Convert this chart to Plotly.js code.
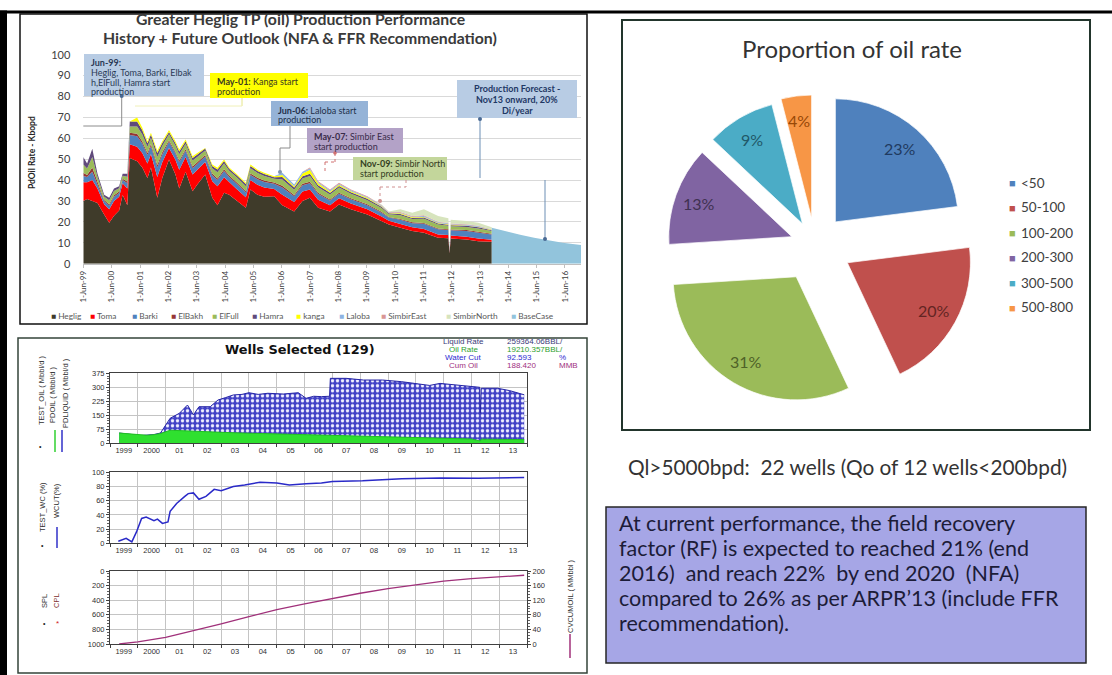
<!DOCTYPE html>
<html><head><meta charset="utf-8">
<script src="https://cdn.plot.ly/plotly-3.0.1.min.js"></script>
<style>html,body{margin:0;padding:0;background:#fff}#chart{width:1112px;height:675px}</style>
</head><body><div id="chart"></div>
<script>
// ---------------- DATA ----------------
// Top-left: Greater Heglig production history (Kbopd), stacked by field
const topDates = ['1999-06-01','1999-07-20','1999-09-25','1999-12-01','2000-02-25','2000-04-30','2000-07-01','2000-09-05','2000-10-20','2000-12-20',
 '2001-01-20','2001-04-25','2001-07-01','2001-09-05','2001-10-20','2002-01-10','2002-03-15','2002-06-10','2002-09-01','2002-10-20',
 '2003-01-10','2003-04-10','2003-06-10','2003-09-20','2003-12-20','2004-02-25','2004-05-20','2004-07-25','2004-11-05','2005-02-25',
 '2005-04-25','2005-07-25','2005-10-20','2006-02-25','2006-06-10','2006-11-10','2007-02-25','2007-06-01','2007-09-15','2008-02-15',
 '2008-06-10','2008-11-10','2009-06-10','2009-12-10','2010-03-15','2010-08-10','2011-01-10','2011-06-10','2011-12-10','2012-04-20',
 '2012-05-05','2012-05-20','2012-12-10','2013-05-10','2013-10-31'];
const heglig = [30,31,30,29,23.5,19.6,23,25.5,33,28, 50.6,49,46,41,46,31.5,41,49.8,42.7,36, 44,34.7,37.9,42.7,31.5,28,33.9,33,30,26.8,
 35.5,33,32,32.3,28,25,30,31.5,26.8,25, 28.3,26,23.5,20.4,18.8,17.2,15.6,14.8,12.4,12.2, 5,12,11.6,10.8,10.5];
const toma = [9,8,10,7,5,6.5,7,6.5,5.5,8, 6.5,7,7,7,6.5,10,7.5,5.5,7,9, 7,8,7,6,8,9,7.5,6,5.5,5,
 4.5,4.8,4.5,3.5,5,4.5,4.5,4,3.8,3, 3,2.8,2.5,2.2,1.8,1.8,1.8,1.8,1.6,1.5, 0.4,1.5,1.3,1.2,1];
const barki = [3,2.5,4,2,1.5,1.8,2,1.8,1.5,2.5, 4.5,5,4.5,4,3.8,4.5,3.8,3,3,3.5, 3,3,2.8,2.6,2.8,3,3,2.5,2.5,2.3,
 2.5,2.6,2.6,2.4,3.5,2.8,3,3,2.8,2.2, 2.2,2,2,1.8,1.5,2,2,2.5,2.5,2.4, 0.3,2.5,2.8,3,2.5];
const elbakh = [1.5,1,2,1,0.5,0.6,0.8,0.7,0.6,0.8, 1,1.2,1,1,1,1.2,1,0.8,0.8,0.9, 0.8,0.8,0.8,0.7,0.8,0.8,0.8,0.7,0.7,0.6,
 0.7,0.7,0.7,0.6,0.8,0.6,0.7,0.7,0.6,0.5, 0.5,0.5,0.4,0.4,0.3,0.4,0.4,0.4,0.4,0.4, 0.05,0.4,0.4,0.4,0.3];
const elfull = [4,3,5,2.5,1.5,1.8,2,1.6,1.5,2.3, 3,3.5,3.3,3,3,3.8,3,2.8,2.9,3, 2.6,2.9,2.6,2.2,2.6,3,2.7,2.3,2.4,2.4,
 2.5,2.3,2.2,1.8,3,2.5,2.6,2.8,2.6,2.4, 2.4,2.2,2,1.8,1.3,1.8,1.6,2,1.8,1.6, 0.1,1.5,1.5,1.5,1.3];
const hamra = [3.5,2.5,4,1.5,1,1.2,1.2,0.9,0.9,1.4, 2.4,2.3,2,1.6,1.5,2,1.4,1.1,1.2,1.3, 1.2,1.2,1.1,0.9,1.1,1.3,1.2,0.9,1,1,
 1.1,1,0.9,0.8,1.2,1,1,1,0.9,0.8, 0.8,0.7,0.7,0.6,0.4,0.6,0.5,0.6,0.5,0.5, 0.05,0.5,0.5,0.5,0.4];
const kanga = [0,0,0,0,0,0,0,0,0,0, 0,2,1.2,1,0.8,1,0.9,1,1,0.9, 0.8,0.8,0.8,0.3,0.7,0.8,0.7,0.6,0.6,0.6,
 0.7,0.6,0.6,0.5,1,0.7,1.4,2,1,0.7, 0.6,0.5,0.4,0.3,0.2,0.3,0.3,0.3,0.3,0.3, 0.03,0.2,0.2,0.2,0.2];
const laloba = [0,0,0,0,0,0,0,0,0,0, 0,0,0,0,0,0,0,0,0,0, 0,0,0,0,0,0,0,0,0,0,
 0,0,0,0,1,0.8,0.8,0.6,0.5,0.5, 0.5,0.4,0.4,0.3,0.2,0.3,0.3,0.4,0.3,0.3, 0.03,0.3,0.3,0.3,0.2];
const simbirEast = [0,0,0,0,0,0,0,0,0,0, 0,0,0,0,0,0,0,0,0,0, 0,0,0,0,0,0,0,0,0,0,
 0,0,0,0,0,0,0,0.4,0.5,0.4, 0.4,0.4,0.4,0.3,0.2,0.3,0.3,0.4,0.3,0.3, 0.02,0.3,0.3,0.2,0.1];
const simbirNorth = [0,0,0,0,0,0,0,0,0,0, 0,0,0,0,0,0,0,0,0,0, 0,0,0,0,0,0,0,0,0,0,
 0,0,0,0,0,0,0,0,0,0, 0,0,0,0.2,0.3,1.3,1.6,2.8,2.7,2.2, 0.02,1.8,1.5,1.5,1];
const baseDates = ['2013-11-01','2014-05-01','2014-11-01','2015-05-01','2015-11-01','2016-05-01','2016-12-25'];
const baseCase = [17.2,15.4,13.8,12.4,11.1,10.0,9.0];
const topSeriesNames = ['Heglig','Toma','Barki','ElBakh','ElFull','Hamra','kanga','Laloba','SimbirEast','SimbirNorth'];
const topTickVals = ['1999-06-01','2000-06-01','2001-06-01','2002-06-01','2003-06-01','2004-06-01','2005-06-01','2006-06-01','2007-06-01',
 '2008-06-01','2009-06-01','2010-06-01','2011-06-01','2012-06-01','2013-06-01','2014-06-01','2015-06-01','2016-06-01'];
const topTickText = ['1-Jun-99','1-Jun-00','1-Jun-01','1-Jun-02','1-Jun-03','1-Jun-04','1-Jun-05','1-Jun-06','1-Jun-07',
 '1-Jun-08','1-Jun-09','1-Jun-10','1-Jun-11','1-Jun-12','1-Jun-13','1-Jun-14','1-Jun-15','1-Jun-16'];

// Pie: proportion of oil rate
const pieLabels = ['<50','50-100','100-200','200-300','300-500','500-800'];
const pieValues = [23,20,31,13,9,4];

// Bottom-left: Wells Selected (129)
const liqDates = ['1999-05-01','1999-08-01','1999-11-01','2000-02-01','2000-05-01','2000-08-01','2000-10-25','2001-03-01','2001-07-01','2001-10-15',
 '2002-01-01','2002-03-15','2002-08-10','2002-11-20','2003-03-01','2003-06-10','2003-10-01','2004-01-01','2004-05-01','2004-09-05',
 '2005-03-25','2005-10-10','2006-01-20','2006-05-01','2006-08-10','2006-11-25','2006-12-05','2007-07-01','2008-02-15','2008-10-20',
 '2009-07-01','2010-01-20','2010-07-01','2010-11-15','2011-09-10','2012-04-20','2012-04-28','2012-05-10','2012-12-10','2013-05-20','2013-11-25'];
const liqVals = [55,52,45,42,44,47,55,134,161,205, 152,196,196,232,245,259,262,271,262,268, 264,271,241,252,250,252,348,348,339,339,
 330,321,310,321,307,300,161,295,295,282,260];
const oilDates = ['1999-05-01','1999-08-01','1999-11-01','2000-02-01','2000-05-01','2000-08-01','2000-10-25','2001-03-01','2001-07-01','2001-10-15',
 '2002-01-01','2002-06-01','2003-01-01','2003-07-01','2004-01-01','2004-07-01','2005-01-01','2005-07-01','2006-01-01','2006-07-01',
 '2006-12-05','2007-07-01','2008-01-01','2008-07-01','2009-01-01','2009-07-01','2010-01-01','2010-07-01','2011-01-01','2011-07-01',
 '2012-01-01','2012-04-28','2012-05-10','2013-01-01','2013-11-25'];
const oilVals = [55,52,45,42,43,46,52,70,68,64, 62,63,58,56,54,52,50,48,45,43, 45,41,38,36,33,31,29,27,26,24, 23,12,22,21,20];
const wcDates = ['1999-04-20','1999-08-01','1999-10-15','1999-12-15','2000-02-20','2000-04-20','2000-08-01','2000-09-15','2000-11-20','2001-02-01',
 '2001-03-01','2001-05-25','2001-09-10','2001-10-25','2002-01-01','2002-03-15','2002-06-15','2002-10-01','2003-01-01','2003-06-10',
 '2003-11-05','2004-05-25','2005-01-01','2005-06-15','2006-01-20','2006-08-10','2007-01-01','2008-02-01','2009-07-01','2010-11-20',
 '2012-04-01','2013-05-25','2013-11-25'];
const wcVals = [3,7,2,16,35,37,32,34,28,30, 45,56,66,70,71,62,66,76,74,80, 82,86,85,82,84,85,87,88,91,92, 91.5,93,92.6];
const cumDates = ['1999-05-01','2000-01-01','2001-01-01','2002-01-01','2003-01-01','2004-01-01','2005-01-01','2006-01-01',
 '2007-01-01','2008-01-01','2009-01-01','2010-01-01','2011-01-01','2012-01-01','2013-01-01','2013-11-25'];
const cumVals = [0,6,18,36,55,75,94,110,125,139,152,163,172,179,184,188.4];
const botTickVals = ['1999-07-01','2000-07-01','2001-07-01','2002-07-01','2003-07-01','2004-07-01','2005-07-01','2006-07-01',
 '2007-07-01','2008-07-01','2009-07-01','2010-07-01','2011-07-01','2012-07-01','2013-07-01'];
const botTickText = ['1999','2000','01','02','03','04','05','06','07','08','09','10','11','12','13'];
const cumTickVals = [0,40,80,120,160,200];
const splTickText = ['1000','800','600','400','200','0'];
const infoLabels = ['Liquid Rate','Oil Rate','Water Cut','Cum Oil'];
const infoValues = ['259364.06BBL/','19210.357BBL/','92.593','188.420'];
const infoUnits = ['','','%','MMB'];

// ---------------- STYLE ----------------
const W=1112,H=675;
const fx=p=>p/W, fy=p=>1-p/H;
const FONT='Lato, "Open Sans", sans-serif';
const AFONT='"Liberation Sans", Arial, sans-serif';
const topColors = ['#3f3b2a','#ff0000','#4f81bd','#963634','#9bbb59','#604a7b','#ffff00','#8db3e2','#d99694','#d7e4bd'];
const baseColor = '#92c4dc';
const pieColors = ['#4f81bd','#c0504d','#9bbb59','#8064a2','#4bacc6','#f79646'];
const pieTextColors = ['#1f3a60','#632523','#4f6228','#3f3151','#215868','#984807'];
const piePull = [0.25,0.3,0.3,0.2,0.2,0.22];
const infoColors = ['#3a3a78','#2ea02e','#2b2bd0','#a03080'];
const PIE = {cx:815, cy:245, x0:655, x1:975, y0:85, y1:405};

const traces=[];
const stack=[heglig,toma,barki,elbakh,elfull,hamra,kanga,laloba,simbirEast,simbirNorth];
stack.forEach((s,i)=>traces.push({type:'scatter',mode:'lines',x:topDates,y:s,name:topSeriesNames[i],stackgroup:'hist',
  line:{width:0,color:topColors[i]},fillcolor:topColors[i],xaxis:'x',yaxis:'y',hoverinfo:'skip'}));
traces.push({type:'scatter',mode:'lines',x:baseDates,y:baseCase,name:'BaseCase',fill:'tozeroy',
  line:{width:0,color:baseColor},fillcolor:baseColor,xaxis:'x',yaxis:'y',hoverinfo:'skip'});

traces.push({type:'pie',labels:pieLabels,values:pieValues,sort:false,direction:'clockwise',rotation:0,pull:piePull,
  marker:{colors:pieColors,line:{color:'rgba(255,255,255,0.7)',width:1}},textinfo:'none',
  domain:{x:[fx(PIE.x0),fx(PIE.x1)],y:[fy(PIE.y1),fy(PIE.y0)]},showlegend:false,hoverinfo:'none'});

traces.push({type:'scatter',mode:'lines',x:liqDates,y:liqVals,name:'PDLIQUID',xaxis:'x2',yaxis:'y2',fill:'tozeroy',
  fillcolor:'#4444c8',fillpattern:{shape:'.',bgcolor:'#4242c6',fgcolor:'#f0f0ff',size:5,solidity:0.35},
  line:{color:'#2525a5',width:1},hoverinfo:'skip'});
traces.push({type:'scatter',mode:'lines',x:oilDates,y:oilVals,name:'PDOIL',xaxis:'x2',yaxis:'y2',fill:'tozeroy',
  fillcolor:'#2fe02f',line:{color:'#22c022',width:1},hoverinfo:'skip'});
traces.push({type:'scatter',mode:'lines',x:wcDates,y:wcVals,name:'WCUT',xaxis:'x3',yaxis:'y3',
  line:{color:'#2a2ac8',width:1.5},hoverinfo:'skip'});
traces.push({type:'scatter',mode:'lines',x:cumDates,y:cumVals,name:'CVCUMOIL',xaxis:'x4',yaxis:'y4',
  line:{color:'#a0307a',width:1.3},hoverinfo:'skip'});
// same cumulative series registered on the right-hand (MMbbl) axis so that axis is drawn
traces.push({type:'scatter',mode:'lines',x:cumDates,y:cumVals,name:'CVCUMOIL (right)',xaxis:'x4',yaxis:'y5',
  line:{color:'rgba(160,48,122,0)',width:0},hoverinfo:'skip'});

const gridC='#c4c4c4';
function botX(anchor){return {domain:[fx(110),fx(527)],anchor:anchor,type:'date',range:['1999-01-01','2014-01-01'],
  tickmode:'array',tickvals:botTickVals,ticktext:botTickText,ticks:'',showgrid:false,zeroline:false,automargin:false,
  minor:{dtick:'M12',tick0:'1999-01-01',showgrid:true,gridcolor:gridC,ticks:'outside',ticklen:3,tickcolor:'#404040'},
  showline:true,mirror:true,linecolor:'#404040',linewidth:1,tickfont:{size:7.5,family:AFONT,color:'#303030'}};}
function botY(anchor,dom,range,dtick){return {domain:dom,anchor:anchor,range:range,dtick:dtick,tick0:0,showgrid:true,gridcolor:gridC,
  zeroline:false,showline:true,mirror:true,linecolor:'#404040',linewidth:1,ticks:'outside',ticklen:3,tickcolor:'#404040',
  minor:{ticks:'outside',ticklen:2,dtick:dtick/5,tickcolor:'#606060'},automargin:false,tickfont:{size:7.5,family:AFONT,color:'#303030'}};}

const shapes=[];
function rect(x0,y0,x1,y1,fill,line,layer){shapes.push({type:'rect',xref:'paper',yref:'paper',x0:fx(x0),x1:fx(x1),y0:fy(y1),y1:fy(y0),
  fillcolor:fill,line:line||{width:0},layer:layer||'above'});}
function seg(x0,y0,x1,y1,color,w,dash){shapes.push({type:'line',xref:'paper',yref:'paper',x0:fx(x0),y0:fy(y0),x1:fx(x1),y1:fy(y1),
  line:{color:color,width:w||1,dash:dash||'solid'},layer:'above'});}
function dot(x,y,r,color){shapes.push({type:'circle',xref:'paper',yref:'paper',x0:fx(x-r),x1:fx(x+r),y0:fy(y+r),y1:fy(y-r),
  fillcolor:color,line:{width:0},layer:'above'});}

// page frame
rect(0,10.5,1112,13.5,'#000');
rect(0,10.5,7,675,'#000');
rect(20,14,587,324,'rgba(0,0,0,0)',{color:'#111',width:1.5});
rect(622,20,1090,430,'rgba(0,0,0,0)',{color:'#22352c',width:2});
rect(18,338,587,673,'rgba(0,0,0,0)',{color:'#34443a',width:1.5});
rect(606,507,1086,663,'#a6a6e6',{color:'#262626',width:1.5},'below');

// callouts
rect(84,54,204,96,'#b8cce4');
seg(121.7,96,121.7,126,'#8c8c8c'); seg(83.3,126,121.7,126,'#8c8c8c'); dot(121.7,96,2,'#4a6a94');
rect(210,73,308,98,'#ffff00');
seg(242,98,242,106,'#e6e68a'); seg(135,106,242,106,'#f0f0b8');
rect(271,101,368,126,'#95b3d7');
seg(290,126,290,148,'#8c8c8c'); seg(280,148,290,148,'#8c8c8c'); seg(280,148,280,172,'#8c8c8c'); dot(280,172,2,'#7d93b0');
rect(307,128,403,153,'#b3a2c7');
seg(335,153,335,162,'#d07070',1,'dot'); seg(325,162,335,162,'#d07070',1,'dot'); seg(325,162,325,172,'#d07070',1,'dot'); dot(335,153,1.8,'#d07070');
rect(353,157,447,180,'#c3d69b');
seg(406,180,406,187,'#d09090',1,'dot'); seg(380,187,406,187,'#d09090',1,'dot'); seg(380,187,380,201,'#d09090',1,'dot'); dot(380,201,2,'#d09090');
rect(457,80,577,118,'#b8cce4');
seg(480,119,480,178,'#6d8fb5'); dot(480,119,2,'#4a6a94'); seg(545,180,545,239,'#6d8fb5'); dot(545,239,2,'#4a6a94');

// bottom-left legend marks
seg(55,430,55,452,'#30d030',1.5); seg(62,430,62,452,'#3030c8',1.5);
seg(57,527,57,548,'#3030c8',1.5);
seg(570,634,570,658,'#a0307a',1.5);

const ann=[];
function txt(x,y,text,size,color,opts){ann.push(Object.assign({xref:'paper',yref:'paper',x:fx(x),y:fy(y),text:text,showarrow:false,
  font:{size:size,color:color,family:FONT},xanchor:'center',yanchor:'middle'},opts||{}));}
function lines(x,ys,arr,size,color,opts){arr.forEach((t,i)=>txt(x,ys[i],t,size,color,opts));}

// top-left titles
txt(300,19,'<b>Greater Heglig TP (oil) Production Performance</b>',15.8,'#3a3a3a');
txt(300,37.5,'<b>History + Future Outlook (NFA &amp; FFR Recommendation)</b>',15.8,'#3a3a3a');
txt(32,153,'<b>PdOil Rate - Kbopd</b>',8.5,'#262626',{textangle:-90});
// callout texts
const L={xanchor:'left'};
lines(89,[62,72.5,82,91.5],['<b>Jun-99:</b>','Heglig, Toma, Barki, Elbak','h,ElFull, Hamra start','production'],9,'#2b3a55',L);
lines(215,[81.5,91],['<b>May-01:</b> Kanga start','production'],9,'#3a3a20',L);
lines(276,[110,119.3],['<b>Jun-06:</b> Laloba start','production'],9,'#22304a',L);
lines(312,[136.7,146],['<b>May-07:</b> Simbir East','start production'],9,'#3a2c4a',L);
lines(358,[164,173.3],['<b>Nov-09:</b> Simbir North','start production'],9,'#34401f',L);
lines(517,[88.5,99.5,110.5],['<b>Production Forecast -</b>','<b>Nov13 onward, 20%</b>','<b>Di/year</b>'],9,'#1f3864');
// top-left legend (built from series arrays)
const topLegendX=[51.7,91,133.3,171.7,213.3,253.3,297,340,381.7,446.7,511.7];
topSeriesNames.concat(['BaseCase']).forEach((n,i)=>{
  const c=(topColors.concat([baseColor]))[i];
  txt(topLegendX[i]-3,316.3,'<span style="color:'+c+'">■</span> '+n,8.3,'#595959',{xanchor:'left'});
});

// pie percent labels along slice bisectors, title + legend
const pieR=(PIE.x1-PIE.x0)/2/(1+Math.max(...piePull));
const pieTot=pieValues.reduce((a,b)=>a+b,0);
let acc=0;
pieValues.forEach((v,i)=>{
  const th=2*Math.PI*(acc+v/2)/pieTot; acc+=v;
  const rr=pieR*(piePull[i]+0.8);
  txt(PIE.cx+rr*Math.sin(th),PIE.cy-rr*Math.cos(th),Math.round(100*v/pieTot)+'%',16,pieTextColors[i]);
});
txt(852,48,'Proportion of oil rate',24,'#333333');
const pieLegY=[182.7,207.3,232.7,257.3,282.7,307.3];
pieLabels.forEach((l,i)=>{
  txt(1012.7,pieLegY[i],'<span style="color:'+pieColors[i]+'">■</span>',11,'#333',{});
  txt(1019,pieLegY[i],l.replace('<','&lt;'),13.5,'#404040',{xanchor:'left'});
});

// right column texts
txt(847.5,466.7,'Ql&gt;5000bpd:&nbsp; 22 wells (Qo of 12 wells&lt;200bpd)',20.8,'#333333');
lines(617,[523,548,573,598,623],['At current performance, the field recovery','factor (RF) is expected to reached 21% (end',
  '2016)&nbsp; and reach 22%&nbsp; by end 2020&nbsp; (NFA)','compared to 26% as per ARPR’13 (include FFR','recommendation).'],21.5,'#1c1c38',L);

// bottom-left texts
txt(300,349,'<b>Wells Selected (129)</b>',12.9,'#111',{font:{size:12.9,color:'#111',family:'"DejaVu Sans", sans-serif'}});
const infoY=[341,349,357,365];
infoLabels.forEach((l,i)=>{
  const f={size:8,color:infoColors[i],family:AFONT};
  txt(463,infoY[i],l,8,infoColors[i],{font:f});
  txt(505,infoY[i],infoValues[i],8,infoColors[i],{xanchor:'left',font:f});
  if(infoUnits[i]) txt(557,infoY[i],infoUnits[i],8,infoColors[i],{xanchor:'left',font:f});
});
function small(x,y,t,c){txt(x,y,t,7.5,c||'#303030',{textangle:-90,font:{size:7.5,color:c||'#303030',family:AFONT}});}
small(41,391,'TEST_OIL ( Mbbl/d )');
small(53,395,'PDOIL ( Mbbl/d )');
small(65,393,'PDLIQUID ( Mbbl/d )');
txt(40,446,'•',7,'#222',{font:{size:7,color:'#222',family:AFONT}});
small(43,507,'TEST_WC (%)');
small(56,501,'WCUT(%)');
txt(42,545,'•',7,'#222',{font:{size:7,color:'#222',family:AFONT}});
small(44,601,'SPL');
small(56,601,'CPL','#803030');
txt(44,623,'•',7,'#222',{font:{size:7,color:'#222',family:AFONT}});
txt(57,623,'*',8,'#d02020',{font:{size:8,color:'#d02020',family:AFONT}});
small(570,596,'CVCUMOIL ( MMbbl )');

const y4=botY('x4',[fy(644),fy(571)],[0,200],40);
y4.tickmode='array'; y4.tickvals=cumTickVals; y4.ticktext=splTickText;
const y5=botY('x4',[fy(644),fy(571)],[0,200],40);
Object.assign(y5,{overlaying:'y4',side:'right',showgrid:false,mirror:false,tickmode:'array',tickvals:cumTickVals});

const layout={width:W,height:H,margin:{l:0,r:0,t:0,b:0},paper_bgcolor:'#ffffff',plot_bgcolor:'rgba(0,0,0,0)',showlegend:false,
  xaxis:{domain:[fx(83.3),fx(581)],anchor:'y',type:'date',range:['1999-06-01','2016-12-25'],tickmode:'array',tickvals:topTickVals,ticktext:topTickText,
    tickangle:-90,ticks:'outside',ticklen:3,tickcolor:'#bfbfbf',showline:true,linecolor:'#bfbfbf',showgrid:false,zeroline:false,automargin:false,
    tickfont:{size:8,family:FONT,color:'#404040'}},
  yaxis:{domain:[fy(263.7),fy(54.7)],anchor:'x',range:[0,100],dtick:10,showgrid:true,gridcolor:'#d9d9d9',zeroline:false,showline:false,
    ticks:'',ticklabelstandoff:12,automargin:false,tickfont:{size:11,family:FONT,color:'#404040'}},
  xaxis2:botX('y2'), xaxis3:botX('y3'), xaxis4:botX('y4'),
  yaxis2:botY('x2',[fy(443.3),fy(373.3)],[0,375],75),
  yaxis3:botY('x3',[fy(543.3),fy(472.3)],[0,100],20),
  yaxis4:y4, yaxis5:y5,
  shapes:shapes, annotations:ann};

Plotly.newPlot('chart',traces,layout,{staticPlot:true,displayModeBar:false});
</script></body></html>
